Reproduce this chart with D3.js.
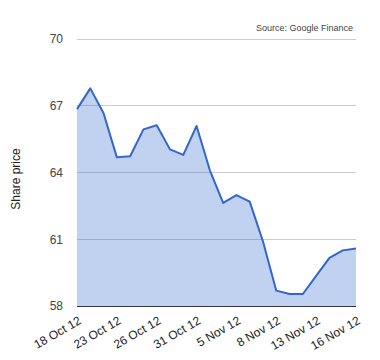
<!DOCTYPE html>
<html><head><meta charset="utf-8">
<script src="https://cdn.jsdelivr.net/npm/d3@7"></script>
<style>body{margin:0;background:#fff}svg{display:block}text{font-family:"Liberation Sans",Arial,sans-serif}</style>
</head><body>
<script>
const dates = ["18 Oct 12","19 Oct 12","22 Oct 12","23 Oct 12","24 Oct 12","25 Oct 12","26 Oct 12","29 Oct 12","30 Oct 12","31 Oct 12","1 Nov 12","2 Nov 12","5 Nov 12","6 Nov 12","7 Nov 12","8 Nov 12","9 Nov 12","12 Nov 12","13 Nov 12","14 Nov 12","15 Nov 12","16 Nov 12"];
const prices = [66.85,67.78,66.66,64.68,64.73,65.94,66.12,65.04,64.79,66.09,64.1,62.63,62.98,62.69,60.9,58.69,58.54,58.54,59.35,60.16,60.5,60.58];
const yTicks = [58,61,64,67,70];
const labelEvery = 3;
const source = "Source: Google Finance";
const yTitle = "Share price";

const W=380,H=360, L=77, R=356, T=39, B=306;
const svg=d3.select("body").append("svg").attr("width",W).attr("height",H);
const x=d3.scalePoint().domain(dates).range([L,R]);
const y=d3.scaleLinear().domain([58,70]).range([B,T]);

svg.append("g").selectAll("line").data(yTicks.filter(v=>v!==58)).join("line")
  .attr("x1",L).attr("x2",R).attr("y1",d=>y(d)).attr("y2",d=>y(d))
  .attr("stroke","#cccccc").attr("stroke-width",1).attr("shape-rendering","crispEdges");

const area=d3.area().x((d,i)=>x(dates[i])).y0(y(58)).y1(d=>y(d));
svg.append("path").datum(prices).attr("d",area).attr("fill","#3366cc").attr("fill-opacity",0.3);
const line=d3.line().x((d,i)=>x(dates[i])).y(d=>y(d));
svg.append("path").datum(prices).attr("d",line).attr("fill","none").attr("stroke","#3366cc").attr("stroke-width",2).attr("stroke-linejoin","round");

svg.append("line").attr("x1",L).attr("x2",R).attr("y1",B).attr("y2",B).attr("stroke","#333").attr("stroke-width",1).attr("shape-rendering","crispEdges");

const yAxis=d3.axisLeft(y).tickValues(yTicks).tickSize(0).tickPadding(14).tickFormat(d3.format("d"));
const gy=svg.append("g").attr("transform",`translate(${L},0)`).call(yAxis);
gy.select(".domain").remove();
gy.selectAll("text").attr("font-size",12).attr("fill","#444").style("font-family","Liberation Sans, Arial, sans-serif");

const xl=dates.filter((d,i)=>i%labelEvery===0);
svg.append("g").selectAll("text").data(xl).join("text")
  .attr("transform",d=>`translate(${x(d)+5},${B+17}) rotate(-30)`)
  .attr("text-anchor","end").attr("font-size",12).attr("fill","#222").text(d=>d);

svg.append("text").attr("x",353).attr("y",31).attr("text-anchor","end").attr("font-size",9).attr("fill","#444").text(source);
svg.append("text").attr("transform",`translate(20,179) rotate(-90)`).attr("text-anchor","middle").attr("font-size",12).attr("fill","#222").text(yTitle);
</script>
</body></html>
